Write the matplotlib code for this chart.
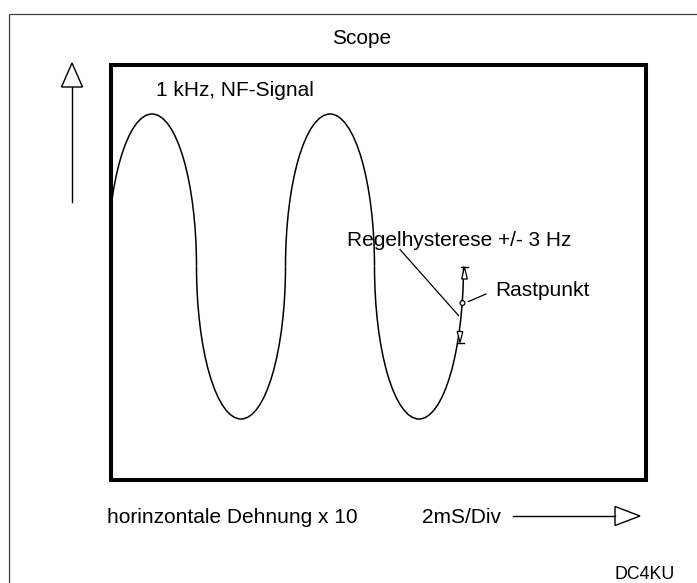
import matplotlib
matplotlib.use("Agg")
import matplotlib.pyplot as plt
from matplotlib.patches import Arc, Polygon, Circle, Rectangle

plt.rcParams["font.family"] = ["Liberation Sans", "DejaVu Sans"]

# Geometry of the drawing (pixel units, y downwards)
screen_x = [111, 646]
screen_y = [64.5, 480]

# Signal: one semi-ellipse per half cycle
half_cycle_x = [152, 241, 330, 419]
half_cycle_sign = [1, -1, 1, -1]
half_cycle_width = 89
signal_centre_y = 266.5
signal_amplitude = 152.5

# Markers on the trace
rast_point = (462.5, 303)
hyst_top = (464.5, 267)
hyst_bottom = (460, 342.5)

labels = {
    "Scope": (362, 44, "center", 15),
    "1 kHz, NF-Signal": (156, 96, "left", 15),
    "Regelhysterese +/- 3 Hz": (347, 246, "left", 15),
    "Rastpunkt": (495, 296, "left", 15),
    "horinzontale Dehnung x 10": (107, 523, "left", 15),
    "2mS/Div": (422, 523, "left", 15),
    "DC4KU": (615, 579, "left", 12.8),
}

fig = plt.figure(figsize=(6.97, 5.83), dpi=100)
ax = fig.add_axes([0, 0, 1, 1])
ax.set_xlim(0, 697)
ax.set_ylim(583, 0)
ax.axis("off")

# outer frame (only top and left visible)
ax.plot([9, 697], [14, 14], color="#404040", lw=0.9, solid_capstyle="butt")
ax.plot([9, 9], [14, 583], color="#404040", lw=0.9, solid_capstyle="butt")

# scope screen
screen = Rectangle((screen_x[0], screen_y[0]), screen_x[1] - screen_x[0],
                   screen_y[1] - screen_y[0], fill=False, ec="black",
                   lw=2.9, zorder=5, joinstyle="miter")
ax.add_patch(screen)

# signal trace, clipped to the screen
for cx, s in zip(half_cycle_x, half_cycle_sign):
    t1, t2 = (180, 360) if s > 0 else (0, 180)
    arc = Arc((cx, signal_centre_y), half_cycle_width, 2 * signal_amplitude,
              theta1=t1, theta2=t2, color="black", lw=1.1, zorder=3)
    ax.add_patch(arc)
    arc.set_clip_path(screen)

# hysteresis arrows
x, y = hyst_top
ax.plot([x - 3.5, x + 3.5], [y, y], color="black", lw=1, zorder=4)
ax.add_patch(Polygon([[x, y], [x - 2.8, y + 12], [x + 2.8, y + 12]], closed=True,
                     fc="white", ec="black", lw=0.9, zorder=4))
x, y = hyst_bottom
ax.plot([x - 3.5, x + 3.5], [y, y], color="black", lw=1, zorder=4)
ax.add_patch(Polygon([[x, y], [x - 2.8, y - 11], [x + 2.8, y - 11]], closed=True,
                     fc="white", ec="black", lw=0.9, zorder=4))

# rest point
ax.add_patch(Circle(rast_point, 2.4, fc="white", ec="black", lw=0.9, zorder=4))
ax.plot([468.5, 486], [301.5, 294], color="black", lw=0.9)
ax.plot([400, 458.5], [249.5, 315.5], color="black", lw=0.9)

# vertical axis arrow
ax.plot([72, 72], [87, 202], color="black", lw=1)
ax.add_patch(Polygon([[72, 63], [61.5, 87], [82.5, 87]], closed=True,
                     fc="white", ec="black", lw=1))

# horizontal time arrow
ax.plot([513, 615], [516, 516], color="black", lw=1)
ax.add_patch(Polygon([[640, 516], [615, 506.5], [615, 525.5]], closed=True,
                     fc="white", ec="black", lw=1))

for txt, (tx, ty, ha, fs) in labels.items():
    ax.text(tx, ty, txt, ha=ha, va="baseline", fontsize=fs, color="black")

fig.savefig("out.png", dpi=100)
